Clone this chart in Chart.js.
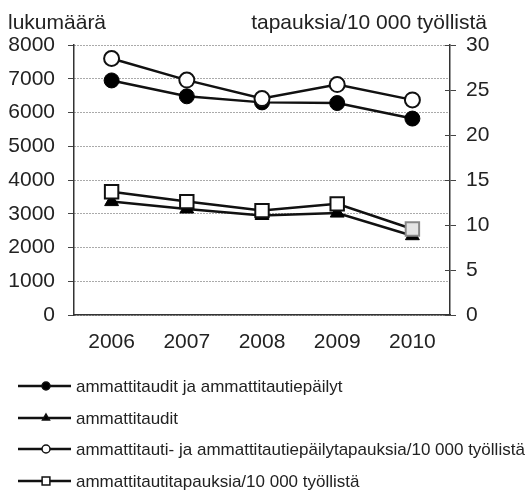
<!DOCTYPE html>
<html>
<head>
<meta charset="utf-8">
<script src="https://cdn.jsdelivr.net/npm/chart.js@4.4.0/dist/chart.umd.min.js"></script>
<style>
  html, body { margin: 0; padding: 0; background: #fff; }
  #wrap { width: 527px; height: 490px; }
</style>
</head>
<body>
<div id="wrap"><canvas id="chart" width="527" height="490"></canvas></div>
<script>
// values
const years = ['2006', '2007', '2008', '2009', '2010'];
const casesAll = [6950, 6480, 6300, 6280, 5820];        // ammattitaudit ja ammattitautiepäilyt
const casesDiseases = [3360, 3140, 2950, 3020, 2350];   // ammattitaudit
const rateAll = [28.5, 26.1, 24.05, 25.6, 23.9];        // per 10 000 employed
const rateDiseases = [13.7, 12.6, 11.6, 12.35, 9.55];   // per 10 000 employed

const leftTicks = [0, 1000, 2000, 3000, 4000, 5000, 6000, 7000, 8000];
const rightTicks = [0, 5, 10, 15, 20, 25, 30];

const labels = [
    'ammattitaudit ja ammattitautiepäilyt',
    'ammattitaudit',
    'ammattitauti- ja ammattitautiepäilytapauksia/10 000 työllistä',
    'ammattitautitapauksia/10 000 työllistä'
];
const leftTitle = 'lukumäärä';
const rightTitle = 'tapauksia/10 000 työllistä';

const FONT = "'Liberation Sans', Arial, sans-serif";
const INK = '#222';

// titles above the axes
const titlesPlugin = {
    id: 'titles',
    afterDraw(chart) {
        const ctx = chart.ctx;
        ctx.save();
        ctx.fillStyle = INK;
        ctx.font = '21px ' + FONT;
        ctx.textBaseline = 'alphabetic';
        ctx.textAlign = 'left';
        ctx.fillText(leftTitle, 8, 29);
        ctx.textAlign = 'right';
        ctx.fillText(rightTitle, 487, 29);
        ctx.restore();
    }
};

// small inward ticks on the right axis
const innerTicksPlugin = {
    id: 'innerTicks',
    afterDraw(chart) {
        const ctx = chart.ctx;
        const y1 = chart.scales.y1;
        const right = chart.chartArea.right;
        ctx.save();
        ctx.strokeStyle = '#444';
        ctx.lineWidth = 1;
        y1.ticks.forEach(t => {
            const y = Math.round(y1.getPixelForValue(t.value)) + 0.5;
            ctx.beginPath();
            ctx.moveTo(right - 5, y);
            ctx.lineTo(right, y);
            ctx.stroke();
        });
        ctx.restore();
    }
};

// legend: one row per series, line sample with its marker
const legendPlugin = {
    id: 'rowLegend',
    afterDraw(chart) {
        const ctx = chart.ctx;
        const rowY = [386, 418, 449, 481];
        ctx.save();
        chart.data.datasets.forEach((ds, i) => {
            const y = rowY[i];
            ctx.strokeStyle = '#111';
            ctx.lineWidth = 2.5;
            ctx.beginPath();
            ctx.moveTo(18, y);
            ctx.lineTo(71, y);
            ctx.stroke();
            ctx.fillStyle = ds.legendFill;
            ctx.strokeStyle = '#111';
            ctx.lineWidth = 1.5;
            Chart.helpers.drawPoint(ctx, {
                pointStyle: ds.pointStyle,
                radius: ds.pointStyle === 'rect' ? 5.5 : 4,
                borderWidth: 1.5,
                rotation: 0
            }, 46, y);
            ctx.fillStyle = INK;
            ctx.font = '17px ' + FONT;
            ctx.textAlign = 'left';
            ctx.textBaseline = 'middle';
            ctx.fillText(labels[i], 76, y + 1);
        });
        ctx.restore();
    }
};

new Chart(document.getElementById('chart'), {
    type: 'line',
    data: {
        labels: years,
        datasets: [
            {
                label: labels[0], data: casesAll, yAxisID: 'y', order: 2,
                borderColor: '#111', borderWidth: 2.5,
                pointStyle: 'circle', pointRadius: 7.5, pointBorderWidth: 1,
                pointBackgroundColor: '#000', pointBorderColor: '#000',
                legendFill: '#000'
            },
            {
                label: labels[1], data: casesDiseases, yAxisID: 'y', order: 2,
                borderColor: '#111', borderWidth: 2.5,
                pointStyle: 'triangle', pointRadius: 8, pointBorderWidth: 1,
                pointBackgroundColor: '#000', pointBorderColor: '#000',
                legendFill: '#000'
            },
            {
                label: labels[2], data: rateAll, yAxisID: 'y1', order: 1,
                borderColor: '#111', borderWidth: 2.5,
                pointStyle: 'circle', pointRadius: 7.5, pointBorderWidth: 2,
                pointBackgroundColor: '#fff', pointBorderColor: '#111',
                legendFill: '#fff'
            },
            {
                label: labels[3], data: rateDiseases, yAxisID: 'y1', order: 1,
                borderColor: '#111', borderWidth: 2.5,
                pointStyle: 'rect', pointRadius: 9.5, pointBorderWidth: 2,
                pointBackgroundColor: ['#fff', '#fff', '#fff', '#fff', '#e4e4e4'],
                pointBorderColor: ['#111', '#111', '#111', '#111', '#888'],
                legendFill: '#fff'
            }
        ]
    },
    options: {
        responsive: false,
        devicePixelRatio: 1,
        animation: false,
        layout: { padding: { top: 45, left: 0, right: 0, bottom: 0 } },
        plugins: {
            legend: { display: false },
            tooltip: { enabled: false }
        },
        scales: {
            x: {
                offset: true,
                grid: { display: false, drawTicks: false },
                border: { display: true, color: '#333', width: 1.5 },
                ticks: { color: INK, font: { family: FONT, size: 21 }, padding: 15 },
                afterFit(s) { s.height = 175; }
            },
            y: {
                position: 'left',
                min: 0, max: 8000,
                afterBuildTicks(s) { s.ticks = leftTicks.map(v => ({ value: v })); },
                grid: {
                    color: '#555', lineWidth: 1,
                    tickColor: '#444', tickLength: 6, tickBorderDash: [],
                    drawTicks: true
                },
                border: { display: true, color: '#333', width: 1.5, dash: [1, 2] },
                ticks: {
                    color: INK, font: { family: FONT, size: 21 }, padding: 13,
                    callback: v => String(v)
                },
                afterFit(s) { s.width = 74; }
            },
            y1: {
                position: 'right',
                min: 0, max: 30,
                afterBuildTicks(s) { s.ticks = rightTicks.map(v => ({ value: v })); },
                grid: {
                    drawOnChartArea: false,
                    tickColor: '#444', tickLength: 6
                },
                border: { display: true, color: '#333', width: 1.5 },
                ticks: {
                    color: INK, font: { family: FONT, size: 21 }, padding: 10,
                    callback: v => String(v)
                },
                afterFit(s) { s.width = 77; }
            }
        }
    },
    plugins: [titlesPlugin, innerTicksPlugin, legendPlugin]
});
</script>
</body>
</html>
